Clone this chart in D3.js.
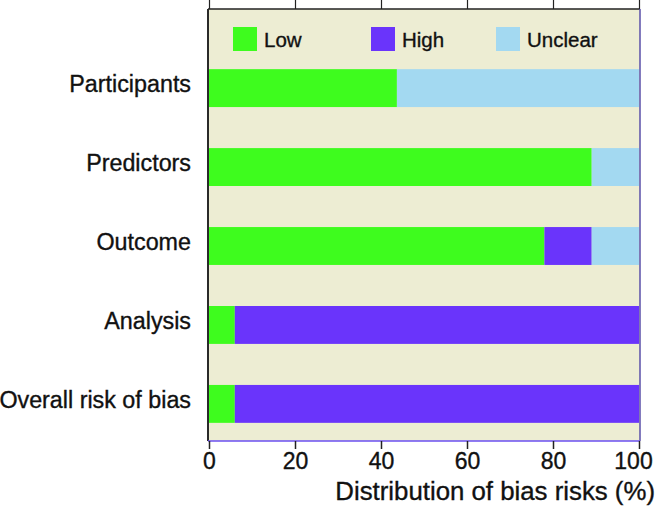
<!DOCTYPE html>
<html><head><meta charset="utf-8">
<script src="https://cdn.jsdelivr.net/npm/d3@7"></script>
<style>html,body{margin:0;padding:0;background:#fff;}svg{display:block;font-family:"Liberation Sans",Arial,Helvetica,sans-serif;}</style>
</head><body>
<svg id="c" width="657" height="512"></svg>
<script>
const categories = ["Participants","Predictors","Outcome","Analysis","Overall risk of bias"];
const lowValues = [43.7, 89, 78, 6, 6];
const highValues = [0, 0, 11, 94, 94];
const unclearValues = [56.3, 11, 11, 0, 0];
const seriesNames = ["Low","High","Unclear"];
const seriesColors = ["#3efc1e","#6a34fb","#a3d9f1"];
const xTicks = [0,20,40,60,80,100];
const xTitle = "Distribution of bias risks (%)";

(function(){
const svg = d3.select("#c");
const L = 209, R = 639, T = 9, B = 441;
const x = d3.scaleLinear().domain([0,100]).range([L,R]);
const y = d3.scaleBand().domain(categories).range([51, B]).paddingInner(0.52).paddingOuter(0.23);
const textStyle = sel => sel.attr("fill","#111").attr("stroke","#111").attr("stroke-width",0.35);

svg.append("rect").attr("x",L-1).attr("y",T).attr("width",R-L+2).attr("height",B-T).attr("fill","#ededd3");

const rows = categories.map((c,i)=>({cat:c, vals:[lowValues[i],highValues[i],unclearValues[i]]}));
rows.forEach(r=>{
  let acc = 0;
  r.vals.forEach((v,j)=>{
    if(v>0){
      svg.append("rect").attr("x",x(acc)).attr("y",y(r.cat)).attr("width",x(acc+v)-x(acc)).attr("height",y.bandwidth()).attr("fill",seriesColors[j]);
    }
    acc += v;
  });
});

svg.append("line").attr("x1",L-1).attr("x2",R+1).attr("y1",T).attr("y2",T).attr("stroke","#222").attr("stroke-width",1.5);
svg.append("line").attr("x1",L-1).attr("x2",L-1).attr("y1",T).attr("y2",B).attr("stroke","#2a2a2a").attr("stroke-width",2);
svg.append("line").attr("x1",R+1).attr("x2",R+1).attr("y1",T).attr("y2",B).attr("stroke","#5a4fa8").attr("stroke-width",1.5);
svg.append("line").attr("x1",L-1).attr("x2",R+1).attr("y1",B).attr("y2",B).attr("stroke","#6a4ff0").attr("stroke-width",1.5);

const topAx = svg.append("g").attr("transform",`translate(0,${T})`)
  .call(d3.axisTop(x).tickValues(xTicks).tickSize(9).tickFormat(""));
topAx.select(".domain").remove();
topAx.selectAll("line").attr("stroke","#222").attr("stroke-width",1.2);

const bot = svg.append("g").attr("transform",`translate(0,${B})`)
  .call(d3.axisBottom(x).tickValues(xTicks).tickSize(8).tickPadding(4).tickFormat(d3.format("d")));
bot.select(".domain").remove();
bot.selectAll("line").attr("stroke","#222").attr("stroke-width",1.5);
bot.selectAll("text").attr("font-size",23).attr("font-family","'Liberation Sans',Arial,sans-serif").call(textStyle)
  .attr("dx", d => d===100 ? -6 : 0);

svg.append("g").selectAll("text").data(categories).join("text")
  .attr("x",191).attr("y",d=>y(d)+y.bandwidth()/2+4)
  .attr("text-anchor","end").attr("font-size",23.3).call(textStyle).text(d=>d);

svg.append("text").attr("x",655).attr("y",500).attr("text-anchor","end").attr("font-size",25.8).call(textStyle).text(xTitle);

const legX = [233, 371, 496];
seriesNames.forEach((n,i)=>{
  svg.append("rect").attr("x",legX[i]).attr("y",27).attr("width",24).attr("height",24).attr("fill",seriesColors[i]);
  svg.append("text").attr("x",legX[i]+31).attr("y",47).attr("font-size",20.5).call(textStyle).text(n);
});
})();
</script>
</body></html>
